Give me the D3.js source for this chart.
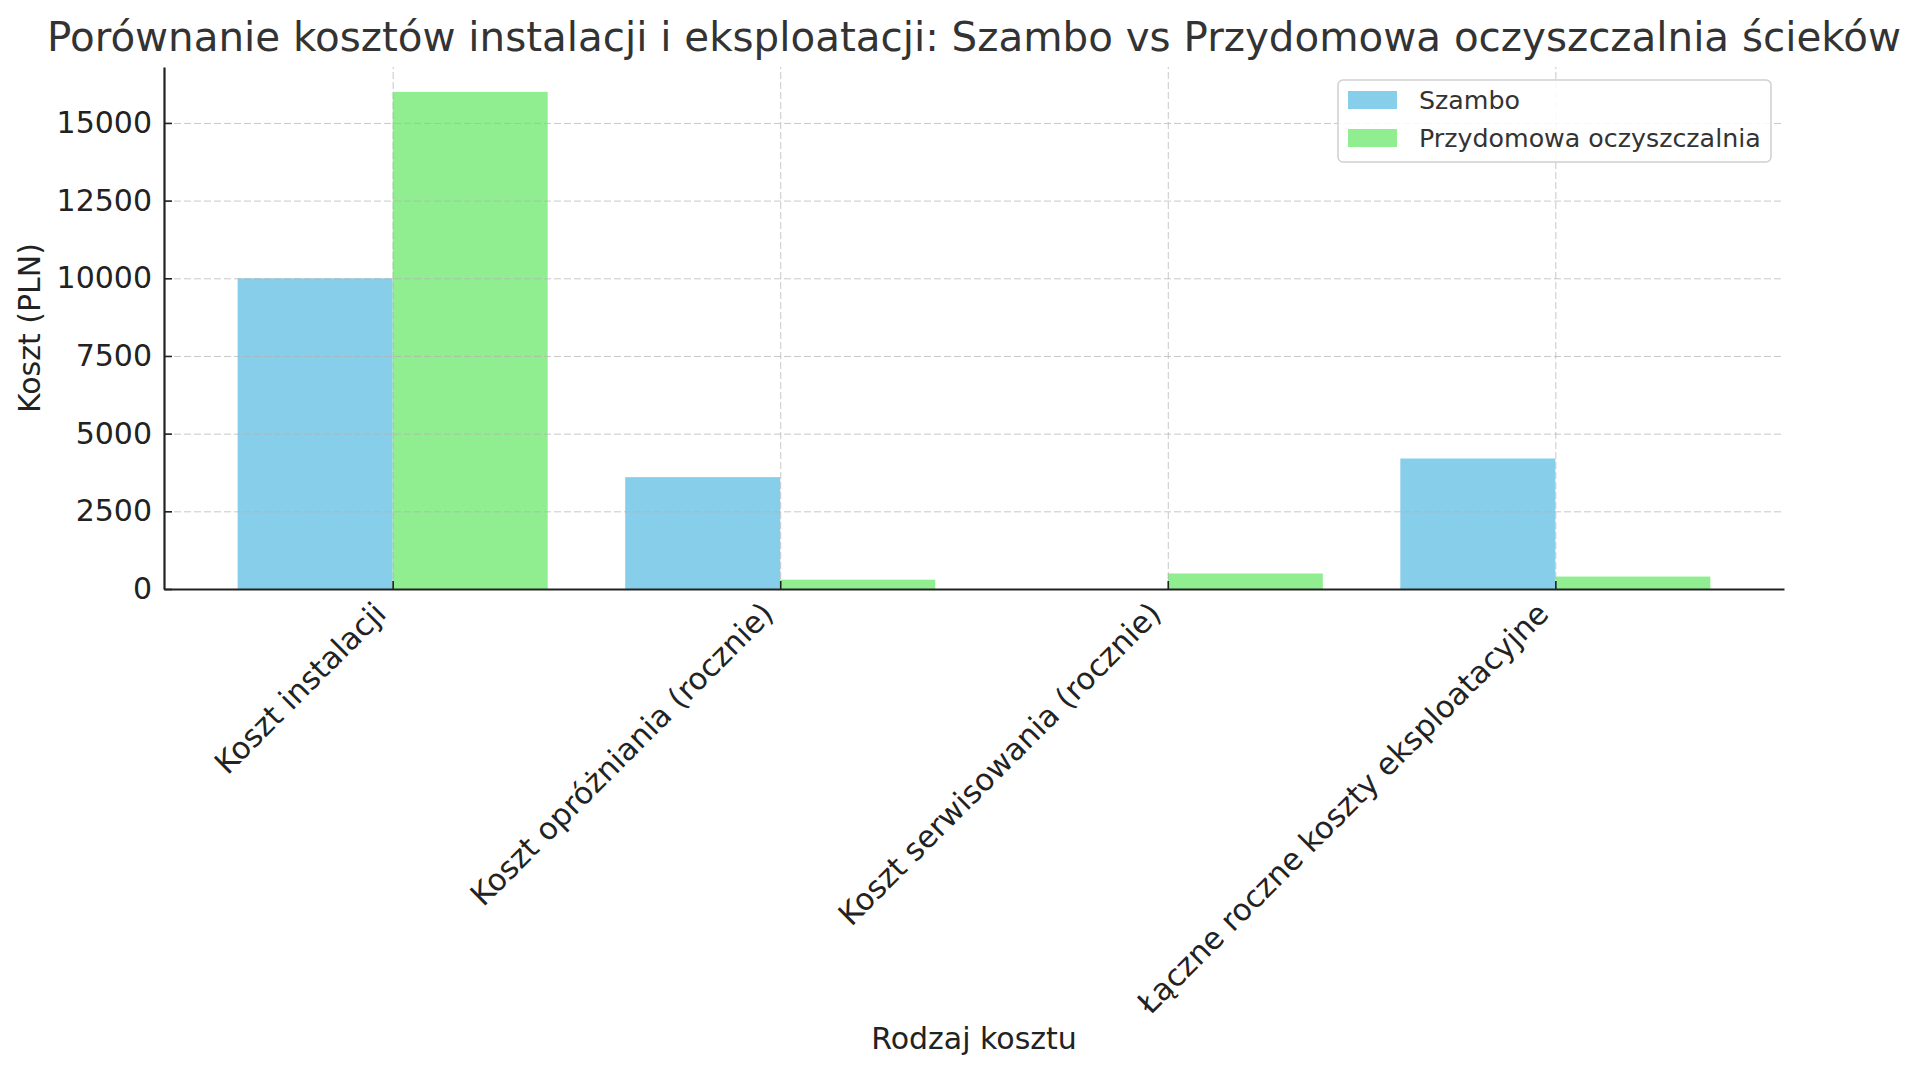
<!DOCTYPE html>
<html>
<head>
<meta charset="utf-8">
<script src="https://cdn.jsdelivr.net/npm/d3@7"></script>
<style>
  body { margin: 0; background: #fff; }
  text { font-family: "DejaVu Sans", sans-serif; }
  .grid line { stroke: #b0b0b0; stroke-dasharray: 7,3; stroke-width: 1; opacity: 0.7; }
  .grid path { display: none; }
  .axis path, .axis line { stroke: #222; }
  .axis text { fill: #222; font-size: 30px; }
</style>
</head>
<body>
<script>
// Chart data
const categories = [
  "Koszt instalacji",
  "Koszt opróżniania (rocznie)",
  "Koszt serwisowania (rocznie)",
  "Łączne roczne koszty eksploatacyjne"
];
const seriesNames = ["Szambo", "Przydomowa oczyszczalnia"];
const szambo = [10000, 3600, 0, 4200];
const oczyszczalnia = [16000, 300, 500, 400];
const yTicks = [0, 2500, 5000, 7500, 10000, 12500, 15000];
const colors = ["#87CEEB", "#90EE90"];

const width = 1920, height = 1074;
const margin = {left: 164, right: 136, top: 67, bottom: 485};
const plotWidth = width - margin.left - margin.right;
const plotHeight = height - margin.top - margin.bottom;

const svg = d3.select("body").append("svg")
  .attr("width", width)
  .attr("height", height);

const plot = svg.append("g")
  .attr("transform", `translate(${margin.left},${margin.top})`);

// x is positional like matplotlib: index 0..3, bars at +-0.2, width 0.4
const barW = 0.4;
const xScale = d3.scaleLinear()
  .domain([-0.59, categories.length - 1 + 0.59])
  .range([0, plotWidth]);

const yScale = d3.scaleLinear()
  .domain([0, 16800])
  .range([plotHeight, 0]);

const series = [szambo, oczyszczalnia];

// Bars
series.forEach((vals, si) => {
  plot.append("g")
    .selectAll("rect")
    .data(vals)
    .join("rect")
    .attr("x", (d, i) => xScale(i + (si === 0 ? -barW : 0)))
    .attr("width", xScale(barW) - xScale(0))
    .attr("y", d => yScale(d))
    .attr("height", d => yScale(0) - yScale(d))
    .attr("fill", colors[si]);
});

// Grid (drawn above bars)
plot.append("g")
  .attr("class", "grid")
  .call(d3.axisLeft(yScale).tickValues(yTicks).tickSize(-plotWidth).tickFormat(""));

plot.append("g")
  .attr("class", "grid")
  .attr("transform", `translate(0,${plotHeight})`)
  .call(d3.axisBottom(xScale).tickValues(d3.range(categories.length))
          .tickSize(plotHeight).tickFormat(""))
  .selectAll("line")
  .attr("y2", -plotHeight);

// Axes
const yAxis = plot.append("g")
  .attr("class", "axis")
  .call(d3.axisLeft(yScale).tickValues(yTicks).tickFormat(d3.format("d"))
          .tickSize(-8).tickSizeOuter(0).tickPadding(12));
yAxis.select(".domain").attr("stroke-width", 2.2);
yAxis.selectAll("line").attr("stroke-width", 1.6);

const xAxis = plot.append("g")
  .attr("class", "axis")
  .attr("transform", `translate(0,${plotHeight})`)
  .call(d3.axisBottom(xScale).tickValues(d3.range(categories.length))
          .tickSize(-8).tickSizeOuter(0).tickFormat(i => categories[i]));
xAxis.select(".domain").attr("stroke-width", 2.2);
xAxis.selectAll("line").attr("stroke-width", 1.6);
xAxis.selectAll("text")
  .attr("text-anchor", "end")
  .attr("dy", "0.35em")
  .attr("font-size", 30.6)
  .style("font-size", "30.6px")
  .attr("transform", "translate(-13,19) rotate(-45)")
  .attr("y", 0)
  .attr("x", 0);

// Axis titles
svg.append("text")
  .attr("x", margin.left + plotWidth / 2)
  .attr("y", 1049)
  .attr("text-anchor", "middle")
  .attr("font-size", 30)
  .attr("fill", "#222")
  .text("Rodzaj kosztu");

svg.append("text")
  .attr("transform", `translate(40,${margin.top + plotHeight / 2}) rotate(-90)`)
  .attr("text-anchor", "middle")
  .attr("font-size", 30)
  .attr("fill", "#222")
  .text("Koszt (PLN)");

// Title
svg.append("text")
  .attr("x", margin.left + plotWidth / 2)
  .attr("y", 51)
  .attr("text-anchor", "middle")
  .attr("font-size", 40.4)
  .attr("fill", "#333")
  .text("Porównanie kosztów instalacji i eksploatacji: Szambo vs Przydomowa oczyszczalnia ścieków");

// Legend
const legend = svg.append("g")
  .attr("transform", "translate(1338,80)");
legend.append("rect")
  .attr("width", 433)
  .attr("height", 82)
  .attr("rx", 5)
  .attr("fill", "#fff")
  .attr("fill-opacity", 0.85)
  .attr("stroke", "#d0d0d0")
  .attr("stroke-width", 1.5);

seriesNames.forEach((name, i) => {
  const row = legend.append("g")
    .attr("transform", `translate(10,${20 + i * 38})`);
  row.append("rect")
    .attr("y", -9)
    .attr("width", 49)
    .attr("height", 18)
    .attr("fill", colors[i]);
  row.append("text")
    .attr("x", 71)
    .attr("dy", "0.35em")
    .attr("font-size", 25.3)
    .attr("fill", "#333")
    .text(name);
});
</script>
</body>
</html>
